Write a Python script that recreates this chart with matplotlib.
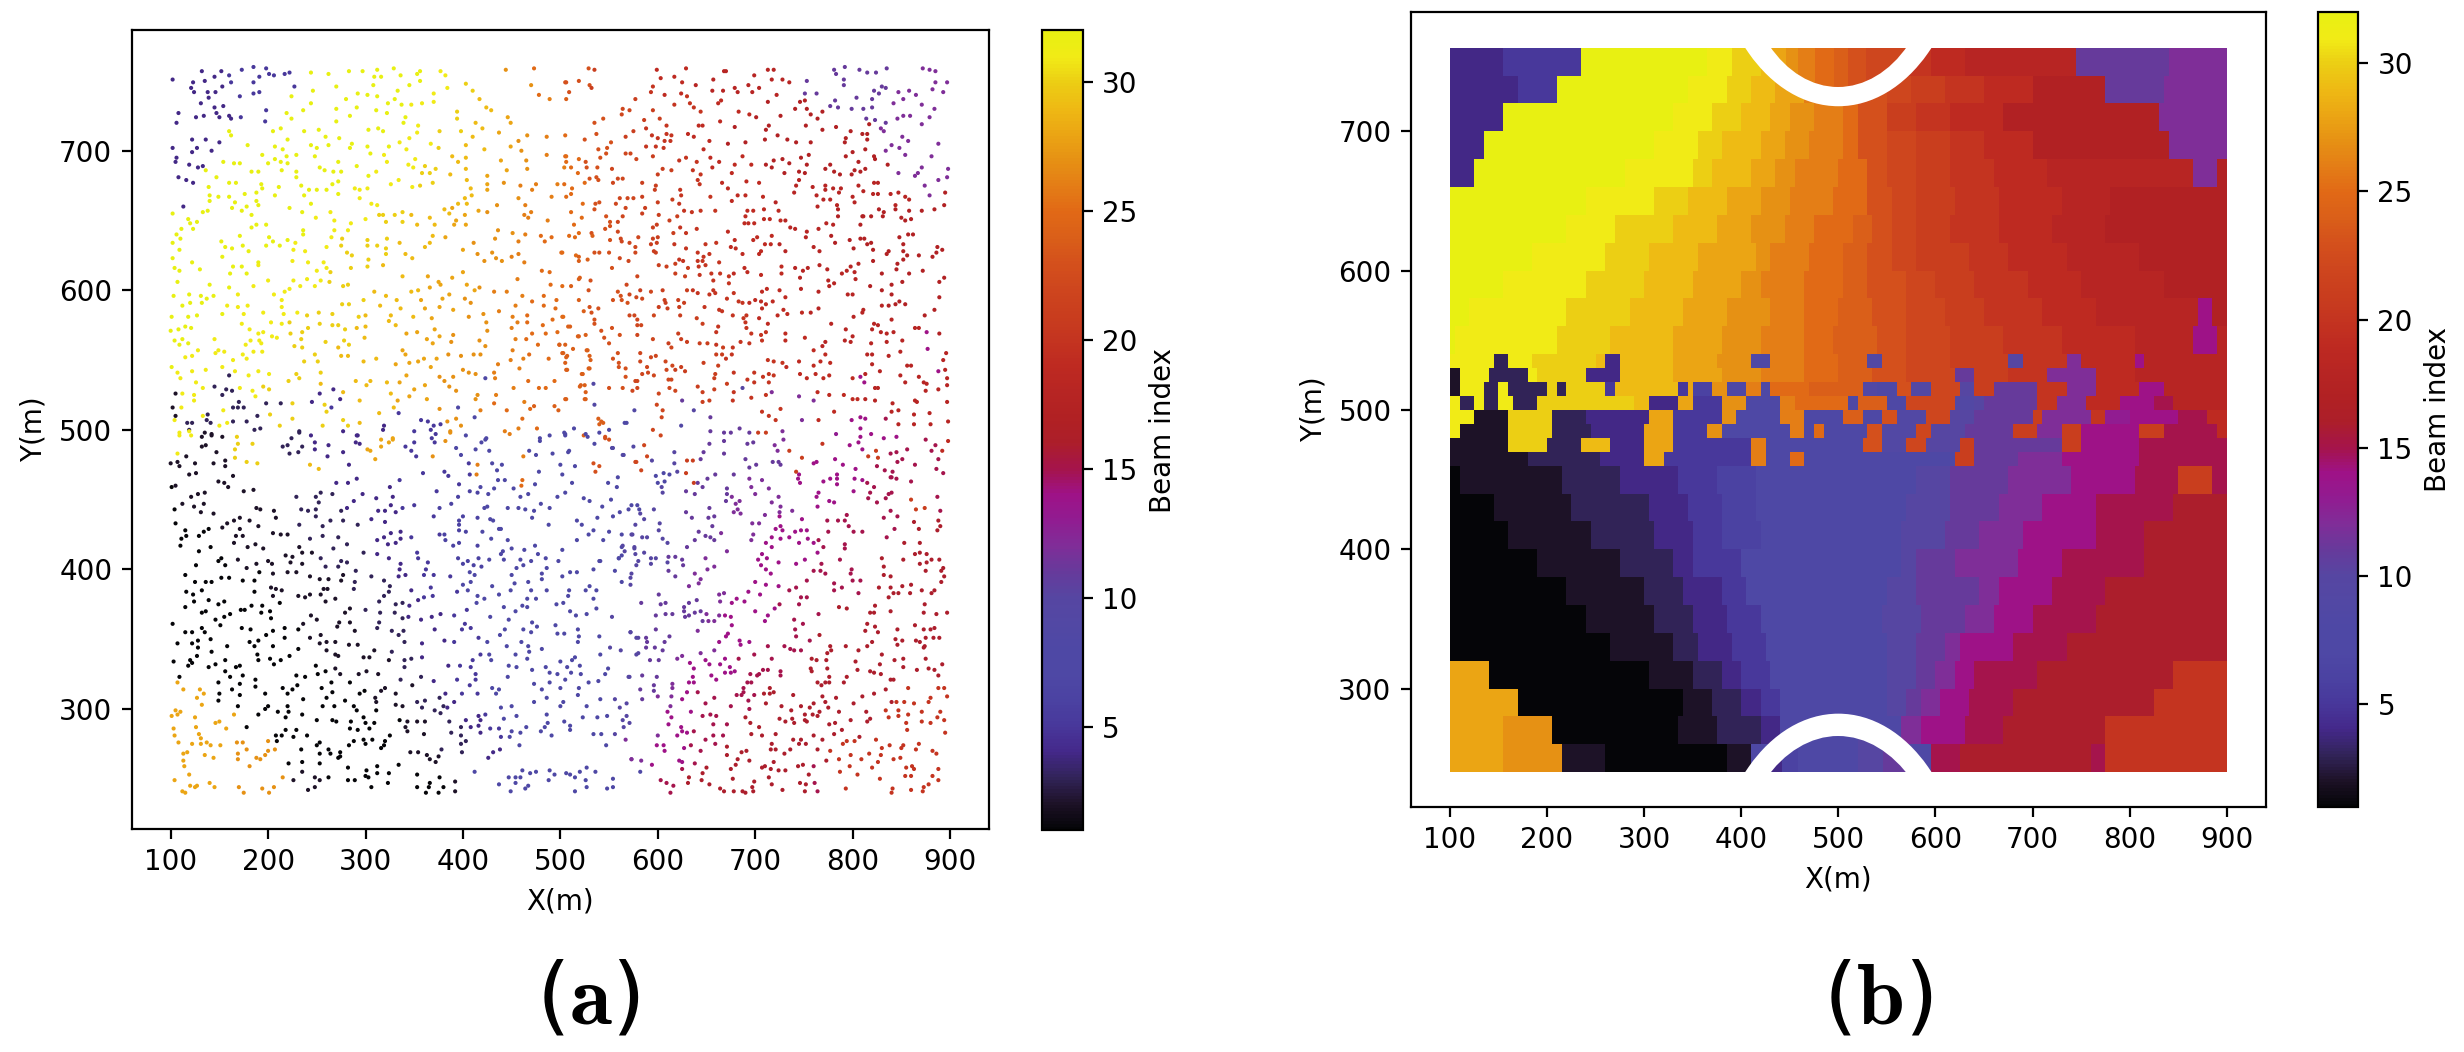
import numpy as np
import matplotlib
matplotlib.use("Agg")
import matplotlib.pyplot as plt
from matplotlib.colors import LinearSegmentedColormap, Normalize
from matplotlib.cm import ScalarMappable
from matplotlib.patches import Circle

plt.rcParams['font.family'] = 'DejaVu Sans'
plt.rcParams['mathtext.fontset'] = 'cm'

W, H = 2464, 1052

beam_palette = [
    (5,5,8),(30,18,40),(50,36,90),(68,40,138),(72,56,155),(75,66,162),(78,72,165),(78,72,165),
    (82,72,164),(86,70,162),(103,58,155),(128,45,152),(145,28,145),(158,18,135),(165,20,75),(172,30,42),
    (177,33,35),(183,37,35),(190,42,33),(196,52,32),(201,62,30),(206,70,30),(212,80,28),(218,95,25),
    (225,105,22),(228,125,22),(230,145,20),(235,165,20),(238,185,20),(236,205,20),(241,235,22),(232,240,18),
]

# Panel (b): beam regions, one string per row, "beam:x_end" runs from x=100 to x=900
y_edges = [760,740,720,700,680,660,640,620,600,580,560,540,530,520,510,500,490,480,470,460,
           440,420,400,380,360,340,320,300,280,260,240]
rows_upper = [
 "4:157 5:233 32:363 31:390 30:419 29:440 27:470 25:500 23:530 21:570 20:596 19:631 18:743 11:840 12:900",
 "4:168 5:210 32:345 31:383 30:410 29:434 28:463 26:493 24:522 23:552 22:575 21:610 20:652 19:700 17:775 11:835 12:900",
 "4:157 32:328 31:372 30:398 29:428 28:451 27:475 26:504 25:522 23:552 21:581 20:616 19:669 17:828 12:900",
 "4:133 32:310 31:357 30:381 29:422 28:445 27:469 26:504 25:522 23:552 22:578 21:616 20:652 19:699 17:840 12:900",
 "4:127 32:280 31:351 30:372 29:410 28:434 27:457 26:498 25:528 23:552 22:578 21:616 20:661 19:717 18:864 12:888 17:900",
 "32:242 31:310 30:345 29:387 28:419 27:451 26:493 25:528 23:555 22:581 21:622 20:664 19:728 18:780 17:900",
 "32:221 31:272 30:328 29:375 28:410 27:445 26:475 25:516 24:533 23:557 22:581 21:616 20:664 19:722 18:775 17:900",
 "32:183 31:260 30:304 29:357 28:416 27:428 26:469 25:504 24:528 23:557 22:581 21:634 20:675 19:734 18:811 17:900",
 "32:157 31:239 30:298 29:351 28:398 27:422 26:463 25:504 24:528 23:569 22:599 21:640 20:693 19:752 18:835 17:900",
 "32:121 31:218 30:283 29:339 28:386 27:428 26:463 25:498 24:534 23:569 22:608 21:652 20:711 19:764 18:870 14:885 17:900",
 "32:103 31:212 30:265 29:328 28:378 27:422 26:463 25:495 24:539 23:572 22:616 21:669 20:728 19:805 18:864 14:888 18:900",
]
rows_band = [
 "31:143 3:160 31:185 30:248 29:262 4:274 29:328 28:375 27:408 7:430 26:463 25:498 24:530 9:545 23:570 22:616 21:675 10:690 20:735 12:750 19:805 14:815 18:900",
 "2:110 31:140 3:182 31:192 30:242 4:275 29:328 28:378 27:420 26:465 25:500 24:535 23:570 22:620 11:640 21:675 20:715 12:763 19:805 18:900",
 "2:110 31:135 3:150 31:160 3:200 30:210 3:222 30:262 5:272 29:333 5:345 28:351 6:369 27:386 7:404 26:419 7:429 25:470 24:525 9:540 8:560 23:575 9:593 22:625 10:640 21:660 11:704 20:734 12:763 19:811 14:834 18:900",
 "31:112 3:125 31:136 3:148 31:163 3:192 30:292 29:304 4:333 28:351 5:380 27:404 7:440 26:457 25:510 8:520 24:548 8:572 22:620 9:640 10:650 11:706 20:727 12:755 19:790 14:825 15:845 18:900",
 "31:125 2:160 30:203 3:240 4:304 28:328 5:378 27:393 7:440 26:463 8:505 24:525 8:545 23:562 9:592 22:615 10:640 11:700 21:712 12:760 20:775 13:800 14:850 15:880 19:900",
 "31:112 2:160 30:203 3:243 4:301 28:330 5:363 27:381 7:451 26:466 8:475 25:484 8:528 23:543 9:581 22:593 10:631 11:681 21:705 12:728 21:752 14:811 21:835 15:888 19:900",
 "2:160 30:198 3:233 29:265 4:298 28:328 5:410 26:425 7:525 23:546 9:572 22:590 10:625 21:640 11:728 21:749 14:811 15:900",
 "2:180 3:257 4:301 28:322 5:411 26:425 7:450 25:463 8:622 21:640 11:687 12:732 14:811 15:900",
]
rows_lower = [
 "1:109 2:213 3:277 4:333 5:375 6:416 8:581 10:616 11:675 12:740 14:805 15:849 21:885 15:900",
 "1:145 2:224 3:304 4:344 5:378 6:416 8:569 10:616 11:664 12:711 14:764 15:846 16:900",
 "1:162 2:245 3:310 4:348 5:381 6:422 8:563 10:610 11:646 12:690 14:764 15:817 16:900",
 "1:192 2:277 3:328 4:351 5:398 8:563 10:581 11:622 12:684 14:731 15:814 16:900",
 "1:221 2:298 3:339 4:381 5:404 8:552 10:581 11:646 12:664 14:722 15:775 16:900",
 "1:239 2:310 3:351 4:386 5:422 8:546 10:587 11:628 12:658 14:699 15:764 16:900",
 "1:266 2:328 3:357 4:389 5:425 8:552 10:581 11:610 12:625 14:681 15:737 16:900",
 "28:142 1:304 2:348 3:381 4:398 5:428 8:552 10:581 11:599 12:619 14:640 15:705 16:843 20:900",
 "28:168 1:339 2:369 3:398 4:422 5:440 8:552 10:572 11:587 12:605 14:634 15:681 16:823 20:900",
 "28:154 27:207 1:336 2:375 3:422 4:440 8:563 12:584 14:631 15:669 16:773 20:900",
 "28:157 27:216 2:260 1:384 2:410 8:596 14:596 15:625 16:758 15:777 20:900",
]
cap_top_runs = "28:445 27:457 26:475 25:495 24:510 23:528 22:571"
cap_bottom_runs = "4:442 6:457 8:520 10:545 11:571"

# Panel (a): user positions, flat x,y pairs
pts_upper_left = [
102,751,132,757,152,757,173,758,185,760,198,759,201,755,217,755,222,756,123,749,135,750,145,753,160,754,162,749,185,749,191,753,206,754,227,746,121,745,124,742,138,742,146,742,153,746,171,739,185,741,191,742,131,734,139,738,145,731,154,732,108,727,126,724,134,725,147,727,150,724,160,725,162,723,172,724,198,729,106,720,160,714,122,708,136,708,150,706,102,702,127,702,122,699,142,700,106,695,105,692,119,690,133,689,108,681,116,679,123,677,
244,756,262,755,283,757,297,757,312,758,329,759,336,754,353,755,356,757,377,757,382,754,246,743,270,746,309,753,316,753,308,747,333,743,345,747,356,750,384,745,224,739,280,737,292,741,302,740,312,739,330,737,323,734,337,733,347,733,358,734,370,735,370,741,236,729,244,734,270,730,291,731,311,729,322,727,284,725,219,727,224,723,270,721,341,724,339,720,354,718,197,721,205,714,213,716,237,714,252,715,303,715,313,716,318,714,353,713,376,714,162,711,220,708,259,710,273,709,286,705,335,706,345,709,179,704,207,703,215,701,244,704,250,702,262,704,284,702,302,703,324,703,342,701,367,705,375,702,194,697,207,694,219,696,229,697,248,696,305,698,319,697,351,694,154,692,165,691,171,691,128,688,136,686,200,691,213,692,220,691,253,688,272,692,291,689,322,692,344,690,361,689,372,687,183,685,190,685,214,686,229,685,258,686,267,685,275,685,311,685,349,688,358,684,366,684,
147,681,303,682,229,681,139,674,160,677,167,677,193,676,194,673,211,674,234,675,266,676,272,678,289,673,302,673,326,676,334,679,348,674,356,675,369,677,140,668,149,667,160,667,176,669,188,670,207,668,237,668,242,672,250,672,260,672,272,669,294,672,294,666,140,664,166,663,188,664,178,660,190,661,222,659,244,662,306,662,312,661,113,660,138,657,133,656,102,655,163,659,173,657,183,654,235,656,249,652,264,656,314,654,318,654,330,654,338,656,347,654,353,647,118,651,120,648,127,649,123,644,188,647,198,647,183,645,268,650,285,648,300,651,321,649,338,649,111,644,106,640,110,637,102,634,171,639,236,643,236,640,268,643,282,643,265,638,276,637,302,636,322,637,335,634,152,635,201,638,198,632,205,635,212,632,220,636,228,634,260,631,275,632,302,632,312,632,321,630,109,629,156,631,163,630,174,632,180,628,226,629,238,628,281,627,286,625,321,626,341,626,102,623,153,624,190,620,225,621,241,620,257,620,303,622,348,623,122,620,104,616,109,614,130,615,164,617,173,617,190,618,260,616,250,614,285,616,302,617,318,618,161,612,178,612,264,613,107,606,200,607,226,607,240,608,254,607,263,606,140,604,160,602,185,603,222,601,233,603,248,603,277,603,282,604,103,596,119,597,131,596,144,596,169,597,206,597,217,599,137,594,132,591,214,593,120,591,112,589,158,589,169,588,179,589,214,588,276,590,283,590,298,593,101,581,118,581,127,582,153,583,175,583,195,584,216,583,230,584,240,582,252,584,266,583,293,581,300,582,
173,576,203,577,214,576,222,577,253,576,266,575,272,575,115,574,121,573,100,571,108,572,181,572,190,569,195,570,223,569,235,570,241,573,279,572,291,573,300,574,204,567,209,566,104,564,112,565,145,565,182,564,191,564,234,565,259,563,299,566,109,561,118,562,177,561,193,562,227,560,235,559,272,559,278,564,283,561,128,557,149,557,146,555,155,556,185,556,194,556,115,552,122,553,174,554,178,551,248,554,275,553,282,553,237,549,164,550,251,549,101,545,107,541,122,542,136,543,166,542,229,540,254,541,201,540,180,539,110,537,126,534,195,531,221,535,232,537,254,533,133,530,163,528,184,528,201,529,124,525,112,526,153,525,124,521,198,519,213,519,225,519,245,520,258,518,111,516,154,514,133,510,189,510,104,507,137,507,178,506,212,503,225,508,109,496,186,500,232,499,256,503,
]
pts_gap = [
105,526,102,516,105,510,117,505,119,500,132,495,138,511,141,505,142,497,153,495,158,505,164,516,164,506,169,516,175,516,170,520,187,524,202,511,192,501,168,495,145,531,157,529,171,530,153,545,160,539,190,542,150,503,122,505,224,494,253,526,267,529,265,516,260,513,277,507,282,503,294,505,292,496,277,499,319,503,318,500,328,494,334,512,350,499,357,507,364,506,370,503,377,504,367,500,372,497,384,506,393,508,398,503,387,499,403,496,412,509,418,514,395,516,424,494,443,499,448,497,457,501,461,508,476,501,479,494,489,496,505,497,524,496,539,508,544,505,540,504,546,495,566,505,576,514,534,533,
119,499,142,496,121,496,135,498,109,498,169,490,166,486,184,490,178,477,189,476,166,480,107,483,215,488,220,489,235,488,222,483,231,484,248,486,248,491,262,489,261,481,244,496,232,498,291,496,277,484,290,491,294,490,302,486,305,485,283,475,243,475,252,472,316,493,324,491,328,493,310,479,316,488,341,488,350,491,347,485,352,481,369,481,368,494,371,491,382,492,387,498,419,491,423,493,462,481,475,482,415,475,414,468,418,459,460,460,479,492,504,498,526,497,535,490,540,498,546,494,553,487,564,482,534,476,540,474,577,477,505,496,528,495,550,493,554,487,575,488,586,489,509,485,
]
pts_upper_mid = [
444,758,473,759,505,749,403,748,410,743,417,737,429,729,424,731,446,724,449,720,470,747,478,740,489,737,394,728,394,723,413,720,420,716,437,713,398,714,410,710,403,704,422,701,449,703,457,707,466,711,486,710,389,696,403,695,439,693,460,700,465,693,486,697,505,696,395,692,403,687,387,683,425,682,445,686,466,687,404,679,425,676,442,677,459,675,475,676,497,676,408,673,425,672,471,672,402,666,409,668,457,666,491,667,381,658,389,659,395,662,404,662,435,661,464,661,416,657,425,656,386,655,402,654,463,654,470,656,393,650,467,652,487,650,391,647,403,647,371,647,366,652,382,638,369,639,436,643,451,641,464,640,480,639,491,638,433,637,457,635,484,635,411,634,366,634,361,631,400,629,415,626,430,627,457,626,501,627,422,621,434,623,440,621,450,624,463,620,400,613,481,614,489,613,338,610,364,610,389,609,375,606,456,608,520,609,404,604,412,600,417,602,490,604,432,599,445,599,347,599,354,600,366,602,377,604,461,596,471,592,483,596,496,593,309,599,321,596,332,593,357,593,379,594,386,597,402,594,408,591,454,589,483,589,495,587,315,589,336,587,361,587,376,588,390,586,437,585,326,582,349,581,368,580,406,581,421,583,451,581,466,582,502,581,492,579,324,578,424,577,456,577,466,577,482,575,331,575,450,573,425,571,508,574,342,569,353,570,371,572,471,569,485,569,497,570,376,567,390,568,363,565,417,564,454,565,465,565,518,567,369,562,388,563,477,561,499,561,423,560,338,557,451,557,502,555,385,554,398,553,411,554,418,554,468,554,527,557,341,554,488,551,506,552,354,549,373,551,462,551,449,550,345,548,436,547,360,551,367,545,331,547,311,551,298,549,400,543,458,544,506,543,406,541,432,541,423,537,413,540,342,539,376,538,390,538,522,540,529,544,433,537,381,535,290,535,305,535,322,534,335,534,467,535,494,535,452,530,478,530,485,530,350,529,361,532,386,531,301,532,277,527,393,528,415,525,434,525,526,527,520,531,326,526,345,524,363,522,274,522,294,521,333,521,463,520,505,522,525,522,413,522,432,519,473,517,494,517,329,516,376,515,445,514,469,515,498,514,314,512,
]
pts_lower_left = [
100,476,107,477,109,474,125,476,116,481,132,488,136,489,147,484,144,476,156,474,156,478,119,468,126,469,164,467,149,463,155,462,159,459,101,459,105,460,175,456,185,457,121,452,128,454,135,455,104,443,112,447,124,445,134,447,131,441,144,440,188,444,192,443,206,442,171,437,165,435,158,433,181,435,208,437,105,433,190,431,153,430,115,428,139,429,171,429,134,427,129,424,116,424,111,422,167,424,174,424,205,426,213,425,220,425,110,417,165,419,187,418,141,416,179,416,195,415,129,413,232,416,218,410,225,409,235,412,245,412,267,415,152,408,169,407,149,406,156,403,126,403,200,406,188,404,178,401,204,404,223,405,235,404,254,408,259,402,275,406,281,405,115,396,191,398,205,397,220,398,229,398,243,395,272,402,277,396,290,399,152,394,160,394,174,392,186,392,125,391,136,391,142,391,253,393,262,393,289,391,275,392,203,387,208,386,214,385,116,384,132,385,186,384,257,386,261,386,288,386,123,382,243,382,205,381,231,381,254,382,124,377,139,378,238,380,269,379,149,375,155,377,212,376,259,377,194,374,183,374,115,373,172,371,176,371,284,372,132,369,136,370,161,368,193,369,202,370,279,369,155,366,203,365,146,364,244,367,250,364,273,362,151,360,102,361,132,358,236,361,284,362,173,358,182,357,217,358,231,357,271,359,289,356,115,355,122,355,135,355,205,356,198,353,254,353,141,350,217,351,243,351,260,348,269,348,107,347,122,347,128,349,181,348,190,349,283,346,292,346,128,344,158,345,186,345,205,345,231,343,253,347,142,341,260,342,189,339,222,338,269,339,272,338,127,338,202,336,298,337,304,337,103,334,120,335,156,335,190,335,213,335,118,331,122,333,146,332,206,332,139,330,171,331,249,331,167,330,259,327,269,329,251,325,293,325,301,327,313,325,156,327,274,325,
161,323,174,324,229,324,238,323,187,321,149,319,265,319,284,319,171,318,230,317,187,316,215,315,255,315,163,314,225,314,320,315,266,312,150,311,197,311,220,311,316,313,299,313,331,311,294,311,171,310,260,308,310,308,236,307,149,306,279,306,311,305,331,303,169,302,200,302,220,302,256,302,268,302,288,302,338,302,291,299,311,299,197,300,210,298,221,298,190,296,235,296,218,294,298,294,250,292,266,292,285,291,270,291,335,292,343,291,353,291,361,291,300,290,309,290,178,287,341,287,284,286,218,285,229,285,292,285,304,286,343,284,360,282,208,281,214,281,240,281,325,281,226,280,298,278,307,278,320,277,209,277,200,277,174,276,253,276,288,277,300,275,283,274,319,274,250,274,207,271,234,271,316,272,262,271,378,271,274,269,253,268,264,268,346,269,354,269,274,266,363,267,272,265,192,264,375,266,366,264,372,262,221,261,235,262,253,261,334,260,282,258,312,259,301,256,324,254,235,255,312,254,300,252,215,251,226,249,248,251,253,249,262,251,303,251,282,249,289,249,353,253,376,251,366,247,323,247,392,248,241,242,248,244,306,244,353,244,365,244,380,244,392,241,362,240,375,240,
109,323,107,319,113,314,130,314,134,311,127,308,132,303,105,299,110,298,101,295,107,296,125,294,165,296,150,291,146,290,126,287,157,286,103,286,104,281,129,282,131,279,108,276,122,275,131,275,137,276,141,274,151,274,168,276,117,269,113,268,178,271,135,267,144,265,169,268,188,265,197,267,200,270,169,264,181,259,113,263,114,259,119,253,104,249,140,247,127,245,120,245,145,244,170,244,125,244,194,243,206,244,112,241,115,240,175,240,201,240,
]
pts_lower_mid = [
393,487,413,486,427,485,398,482,468,485,492,483,508,484,406,476,430,476,440,475,500,475,515,474,435,471,381,470,385,467,359,469,407,468,478,470,502,468,536,470,559,466,436,464,443,464,396,461,335,464,282,462,291,465,270,462,461,464,474,461,512,462,549,462,373,456,407,456,415,455,432,458,325,459,452,458,505,455,558,459,254,455,266,454,297,454,395,452,426,454,459,452,467,454,497,452,524,451,311,451,328,452,249,452,229,452,252,448,288,449,388,447,480,447,530,449,543,445,326,446,350,446,425,445,457,444,489,444,552,450,573,446,234,443,249,443,241,442,281,444,338,444,313,442,320,442,376,444,422,444,446,444,464,443,570,443,275,442,331,441,473,442,249,438,370,438,400,438,415,437,561,441,471,437,554,438,538,437,306,436,428,436,517,435,396,435,264,435,277,435,320,434,431,435,522,432,292,432,488,432,396,432,256,431,232,432,439,429,396,428,403,427,420,427,437,429,534,428,550,427,563,425,574,425,376,425,381,425,326,426,336,427,529,425,256,424,272,423,319,423,347,423,312,421,336,422,382,421,429,422,517,421,544,421,243,422,331,419,323,418,396,419,390,417,281,418,415,417,446,421,474,417,563,416,576,415,450,415,463,414,441,413,502,414,563,410,439,411,298,412,312,411,353,412,477,411,560,408,395,408,416,408,324,408,354,408,442,407,459,407,485,408,405,406,427,407,470,406,364,405,498,406,540,406,400,404,336,404,411,403,419,402,578,403,462,403,362,400,335,400,486,401,455,401,534,400,556,399,573,397,407,398,481,397,510,398,517,398,360,396,370,396,412,396,450,396,306,395,334,395,341,396,387,395,502,395,572,394,481,393,319,392,408,391,467,391,563,391,453,390,530,388,325,388,400,389,430,388,572,389,367,387,405,385,449,385,470,385,509,385,486,385,526,385,537,385,324,384,347,385,394,384,437,382,415,381,466,379,508,381,369,381,319,381,360,380,475,379,534,379,461,374,466,373,314,377,414,376,422,379,496,375,503,376,331,375,338,376,345,374,354,378,442,373,510,370,537,372,404,371,300,371,315,369,454,370,330,369,391,367,516,367,527,368,377,368,428,366,338,365,344,366,368,366,553,366,447,364,357,364,471,362,495,360,314,362,402,361,312,358,476,359,371,357,408,358,399,357,443,357,462,357,518,357,327,356,339,356,470,355,572,355,497,354,504,354,438,353,334,353,519,352,540,352,578,351,381,349,391,348,416,351,460,348,340,348,425,348,518,348,358,347,467,345,445,345,551,344,481,343,468,341,454,339,418,339,427,339,562,342,578,339,541,339,309,342,327,341,358,337,466,336,410,335,429,335,515,337,512,335,340,335,347,336,500,334,385,331,397,331,408,330,324,335,447,331,455,330,485,330,507,330,340,330,471,328,549,329,520,331,413,325,521,325,489,326,511,326,497,325,394,321,413,321,446,323,357,323,505,321,570,323,529,319,539,320,336,321,370,320,546,325,473,318,489,319,430,315,407,317,500,315,519,315,481,314,437,314,348,317,382,311,399,311,415,311,434,311,518,310,486,308,376,308,361,306,391,305,503,305,541,307,556,307,473,305,353,305,568,304,527,302,380,302,500,302,358,301,561,301,384,301,439,301,450,302,371,299,377,297,486,296,423,296,442,293,455,295,523,294,538,294,548,295,416,295,568,295,403,292,418,292,564,292,504,291,487,290,386,291,398,287,416,288,428,286,437,286,465,287,484,287,510,288,565,287,408,287,510,285,571,290,418,283,450,284,459,283,480,284,388,283,398,281,491,281,534,282,542,282,556,282,439,280,448,280,403,277,567,278,398,275,458,274,547,274,438,271,399,269,431,269,426,265,573,264,412,255,461,256,489,256,506,254,527,258,536,255,475,255,469,254,494,253,520,255,454,251,447,251,510,253,515,251,459,251,488,249,554,250,526,249,454,247,467,245,437,246,527,244,554,244,464,243,548,243,449,241,515,241,
]
pts_lower_right = [
603,496,654,499,668,498,675,498,694,498,703,498,711,498,729,493,783,497,808,495,819,497,832,494,845,495,875,493,653,490,668,492,692,490,698,491,720,489,769,490,797,489,806,491,898,492,885,489,856,486,617,484,723,485,735,485,810,486,824,485,839,483,845,484,881,485,892,485,565,482,589,481,647,484,668,483,726,475,748,480,763,477,782,479,816,481,826,480,851,479,888,479,578,477,594,478,630,478,636,478,644,479,690,479,718,477,724,477,790,475,846,477,617,476,701,475,760,476,825,474,864,475,694,473,803,472,886,472,583,471,620,470,742,470,833,471,893,469,598,467,606,469,612,468,629,469,659,468,678,468,745,468,784,468,841,470,840,466,694,465,707,464,744,465,770,463,777,465,784,465,802,465,810,464,839,466,845,465,651,465,600,462,607,463,637,462,641,462,746,462,815,462,860,463,604,459,646,459,696,459,714,458,784,461,801,456,822,459,605,455,638,454,629,456,671,458,671,454,700,454,765,455,818,455,837,454,840,455,763,452,724,452,860,450,670,449,676,452,816,451,834,451,887,452,776,449,781,448,717,448,579,446,684,449,680,447,825,448,726,445,764,445,874,444,865,443,581,443,596,443,629,441,653,444,682,443,685,440,738,442,839,442,890,442,678,441,725,441,582,440,725,438,794,439,832,437,846,438,635,437,658,438,652,437,710,439,748,436,586,436,774,435,785,435,792,435,863,434,888,435,602,433,697,433,704,433,726,431,796,431,868,429,890,431,577,432,656,431,721,429,747,428,843,429,601,428,801,427,810,427,887,428,642,427,728,428,741,427,753,428,775,427,665,426,573,425,649,424,698,425,584,423,589,423,654,423,717,423,726,422,735,423,754,422,765,421,835,423,605,422,658,421,638,421,696,421,745,419,610,419,711,419,760,419,853,419,869,419,564,417,792,418,630,416,717,416,770,416,792,415,671,413,566,413,576,416,869,412,864,411,876,411,764,412,586,412,577,411,707,411,618,409,
611,409,830,408,852,407,881,407,889,407,560,408,593,408,598,408,625,407,649,408,703,407,712,408,751,407,787,407,876,405,869,404,832,402,724,405,742,404,768,404,580,406,610,405,626,403,651,400,658,402,706,403,893,401,593,404,541,406,799,400,875,399,891,399,760,399,711,400,767,399,638,397,611,399,716,397,798,397,832,396,839,395,772,397,894,395,618,395,644,393,753,392,800,392,808,392,891,391,642,390,700,391,781,390,632,388,711,389,724,388,742,387,789,387,827,387,839,387,851,388,860,389,735,385,781,385,859,383,871,385,884,385,842,383,847,383,601,382,663,382,668,383,693,384,705,382,806,383,837,380,753,380,747,380,681,379,881,383,676,376,664,377,689,377,725,375,640,378,823,374,874,375,603,375,632,376,583,376,745,375,608,376,627,373,786,373,794,372,720,372,700,370,627,370,839,370,818,369,822,369,873,369,886,368,897,369,765,368,638,369,644,370,650,368,663,367,669,367,675,366,713,367,615,368,608,368,628,366,632,367,598,367,740,364,646,363,652,363,658,363,676,360,710,363,749,361,815,361,864,360,884,358,823,359,873,357,880,357,846,357,741,357,813,356,826,355,766,353,641,356,598,357,572,355,672,354,742,352,670,352,588,351,580,351,883,351,889,351,875,351,844,350,865,349,851,349,589,348,612,352,607,348,663,348,684,349,694,348,756,349,820,348,869,348,685,346,713,345,730,345,777,345,793,345,846,346,874,345,736,343,588,344,597,344,605,342,658,342,778,342,806,342,815,345,740,342,747,342,873,344,580,340,644,340,699,339,774,340,830,339,875,336,620,336,592,335,601,335,625,338,649,335,669,336,683,336,717,336,758,336,763,335,773,335,843,335,852,336,803,334,828,332,633,333,653,332,664,332,892,332,637,329,674,330,852,330,757,329,774,329,805,328,818,327,866,328,878,329,884,328,713,328,708,328,726,327,679,327,669,326,675,326,758,327,822,326,829,325,704,325,888,324,695,325,655,324,702,324,726,324,584,324,599,323,636,323,660,321,571,323,776,323,794,323,839,321,842,321,776,319,764,319,637,319,772,319,791,319,696,319,615,318,596,317,632,319,692,319,768,317,615,315,641,312,630,312,688,315,715,315,596,313,582,314,857,315,888,315,834,314,894,315,688,312,719,312,600,309,614,309,709,311,681,310,686,310,699,310,715,311,739,310,769,309,783,308,810,309,822,311,880,308,897,309,658,308,625,307,693,306,772,305,584,307,840,305,845,305,853,305,863,304,878,305,711,304,760,304,801,304,675,302,649,304,613,302,727,302,747,302,756,301,775,301,694,300,634,298,610,298,737,299,834,299,847,299,871,298,814,298,786,298,654,296,766,298,890,298,751,296,759,296,857,296,660,295,646,295,690,294,725,293,837,294,847,295,614,294,764,295,751,292,753,291,798,292,818,293,887,294,731,291,738,293,815,291,855,290,871,291,894,292,671,289,611,289,695,290,657,289,740,290,776,289,782,290,880,290,704,287,624,287,789,285,856,285,630,283,637,284,625,284,696,282,707,281,721,282,760,281,781,282,600,281,895,283,667,281,657,281,620,281,807,280,649,278,739,278,747,278,769,278,824,278,802,277,794,277,790,275,717,275,659,275,745,275,752,275,599,274,606,274,634,274,627,272,838,274,852,274,868,275,671,273,830,272,850,272,736,271,716,271,721,271,777,270,764,271,865,271,607,270,644,270,686,269,691,270,882,270,730,268,671,267,798,267,817,268,829,267,886,268,573,264,583,263,682,264,622,263,809,264,786,264,842,264,849,265,694,263,625,262,594,260,638,261,719,262,826,262,680,260,773,263,749,260,710,259,650,258,861,259,744,259,760,259,625,257,675,257,787,255,797,259,820,258,855,258,888,257,724,256,731,256,716,257,582,255,646,254,805,253,707,258,755,253,863,257,632,251,854,252,714,251,677,250,860,252,882,252,828,250,603,249,645,249,699,248,888,249,609,247,746,247,616,245,631,247,653,246,717,246,752,246,761,247,878,246,873,244,697,244,664,243,793,243,841,243,860,242,872,241,678,241,687,241,668,241,728,242,751,241,764,241,613,240,690,240,698,241,840,240,
]
pts_upper_right = [
529,759,535,758,599,758,629,759,668,757,699,754,713,758,719,758,781,758,792,760,807,758,835,759,872,759,885,757,506,749,519,750,603,752,617,753,657,751,670,757,717,751,728,751,753,750,783,755,791,751,815,756,824,756,879,758,897,749,530,747,532,745,595,746,625,749,639,747,693,747,704,745,735,749,791,747,830,746,885,749,509,742,593,742,656,743,667,743,679,745,682,742,697,742,751,741,763,741,822,743,834,745,847,742,858,743,882,744,893,742,506,737,577,737,607,740,624,741,630,739,722,740,662,734,665,736,713,735,746,735,751,736,782,736,804,738,820,737,827,741,842,734,852,737,865,740,871,733,617,733,633,734,637,731,683,728,564,730,571,729,595,729,644,728,741,730,753,730,769,728,777,732,785,731,799,730,811,730,820,731,884,730,694,726,701,724,726,725,757,726,764,723,563,726,814,723,846,723,852,725,859,725,879,724,544,723,535,720,586,722,602,723,664,721,817,719,823,722,834,720,871,719,609,718,642,718,646,718,679,717,714,718,752,718,783,717,829,716,588,716,575,714,711,715,723,711,769,715,798,714,832,714,505,711,537,712,567,710,594,711,609,712,631,712,614,711,637,710,810,712,815,712,851,710,525,708,600,709,653,707,710,708,733,708,742,706,757,706,793,709,815,708,857,707,552,706,607,707,613,707,672,705,690,706,792,706,888,705,548,702,588,703,598,703,606,702,647,701,539,701,813,701,834,700,840,704,848,702,547,698,567,698,572,698,800,699,854,697,881,696,506,696,519,694,541,695,578,694,595,696,687,696,747,695,755,697,793,696,822,696,526,692,506,692,622,693,629,695,640,692,654,695,663,692,719,693,728,694,735,691,806,692,823,694,504,688,511,688,527,688,538,688,553,687,605,687,656,688,679,690,696,690,711,690,717,688,753,690,772,687,777,690,836,690,898,687,518,684,636,686,614,686,676,684,730,684,745,685,751,684,787,683,781,685,802,686,808,685,813,687,847,684,871,688,867,684,600,683,644,683,799,683,864,682,897,681,530,680,537,681,559,680,564,680,745,679,641,679,888,679,539,679,666,677,525,677,554,677,584,677,691,678,704,677,504,676,643,676,742,675,806,675,822,677,826,677,874,675,598,675,772,675,512,673,597,672,672,673,759,674,780,673,788,673,623,672,772,672,811,671,740,670,506,667,511,669,624,668,690,668,708,667,654,667,682,668,763,668,786,670,800,667,821,669,826,669,839,669,847,670,854,667,879,668,895,670,561,666,569,666,575,666,584,667,615,665,858,665,770,665,777,665,676,664,802,663,622,662,523,662,536,662,540,663,557,662,600,663,721,663,894,661,844,661,567,659,587,659,764,660,784,661,535,658,584,655,698,657,692,657,659,657,709,658,627,657,635,656,644,657,724,657,785,658,827,658,844,658,871,657,884,658,832,656,511,656,564,653,601,654,547,653,620,653,522,652,690,653,858,657,811,653,819,653,831,653,785,653,709,651,715,651,726,650,731,650,810,653,612,650,551,649,559,649,850,652,860,651,854,650,773,648,689,648,693,648,699,648,599,647,780,647,808,647,514,647,546,644,551,646,595,645,623,645,640,644,736,645,741,644,765,644,519,641,532,641,559,642,616,641,629,641,672,642,753,642,857,640,862,640,509,639,515,638,533,639,600,638,717,639,702,638,752,638,778,639,808,637,812,637,848,638,551,636,562,637,595,637,679,636,698,636,797,636,571,634,563,635,580,638,593,633,599,634,649,633,660,634,710,633,716,633,725,633,782,634,815,633,819,634,852,633,577,631,617,633,629,630,675,631,680,630,760,631,801,630,821,629,887,631,892,629,502,627,535,627,540,627,550,627,577,627,596,628,598,627,641,627,653,626,687,626,706,628,704,626,731,628,766,628,852,628,837,628,886,627,868,625,516,625,519,624,561,623,647,624,835,626,856,625,882,624,528,622,519,621,570,621,622,622,641,621,646,621,626,621,821,621,852,622,601,618,609,617,618,619,663,620,806,619,846,619,642,617,631,616,649,618,689,616,727,617,741,616,754,616,766,618,774,615,798,617,553,616,692,613,655,612,664,612,678,612,618,612,706,611,727,612,749,614,789,612,794,614,802,613,845,615,858,612,872,614,830,612,579,610,628,610,643,611,673,610,746,609,775,607,894,609,519,608,531,607,657,607,803,608,889,606,851,606,568,604,673,605,781,605,776,603,511,603,502,603,818,603,
562,596,559,599,582,600,593,599,605,600,630,600,636,600,641,598,657,600,707,599,712,601,725,600,747,601,765,599,830,600,840,604,529,600,571,597,800,597,795,597,653,597,678,598,659,598,840,597,519,593,578,595,584,594,621,593,671,594,683,592,700,593,731,595,889,595,607,593,554,593,563,593,569,591,706,592,718,592,848,592,687,591,694,591,627,591,608,591,711,590,854,590,830,589,837,589,844,590,530,588,539,587,524,585,601,588,610,587,622,588,648,588,707,587,765,587,811,586,884,586,532,584,663,586,666,585,729,586,748,584,757,584,810,584,503,581,535,579,571,582,576,582,596,582,623,582,677,582,691,582,704,580,723,582,733,583,840,579,801,581,874,582,579,579,640,580,688,580,535,576,690,577,646,576,713,576,778,576,822,576,826,575,864,573,510,574,553,573,579,575,662,574,583,575,820,572,868,573,542,571,793,572,691,573,711,570,829,570,835,569,842,570,876,570,660,570,579,568,621,569,696,569,706,568,731,569,889,569,519,567,526,568,545,566,561,568,800,567,751,566,595,565,624,565,707,564,731,564,792,564,798,563,851,564,630,563,643,562,651,562,660,561,685,563,694,562,772,563,819,562,835,563,550,562,611,562,499,561,505,561,667,559,677,559,614,559,769,560,513,558,528,557,760,557,849,556,877,558,582,555,503,555,559,555,660,554,666,554,676,554,772,554,815,554,820,554,837,553,896,555,507,553,530,553,593,552,598,553,670,551,531,550,554,551,608,549,582,549,713,550,719,549,745,549,767,549,777,548,893,550,505,548,560,548,647,548,728,548,856,546,820,547,560,545,615,546,589,545,624,545,567,544,662,546,732,545,760,546,860,546,507,543,530,544,609,543,618,543,628,542,828,542,888,542,895,543,584,540,590,541,699,541,659,540,678,541,714,540,746,540,813,540,849,539,523,540,719,539,596,539,762,540,776,539,808,538,868,538,897,537,567,538,658,537,692,536,708,538,770,537,800,537,897,532,611,536,577,535,714,534,753,537,614,536,579,535,699,534,812,534,671,533,521,532,525,532,564,530,550,530,826,530,854,534,876,533,873,534,574,528,579,530,641,531,658,529,687,530,612,530,717,527,888,529,875,528,601,526,618,528,646,527,678,527,711,525,764,527,776,525,791,525,823,530,745,524,506,522,526,522,625,521,677,521,653,521,696,523,800,522,805,522,813,522,823,521,760,521,864,521,897,520,646,520,535,518,726,515,841,519,637,514,599,518,866,520,847,514,605,514,781,513,863,511,840,513,707,513,879,512,714,510,654,509,748,507,765,507,799,507,813,508,834,508,624,503,568,505,847,504,863,504,880,504,898,506,808,509,604,509,514,501,542,506,721,507,808,501,595,500,550,500,684,501,728,499,
]

def px_axes(fig, left, right, top, bottom):
    return fig.add_axes([left / W, 1 - bottom / H, (right - left) / W, (bottom - top) / H])

def parse_runs(text):
    return [(int(a), int(b)) for a, b in (t.split(':') for t in text.split())]

def beam_at(runs, x):
    for beam, end in runs:
        if x <= end:
            return beam
    return runs[-1][0]

cmap = LinearSegmentedColormap.from_list('beam', [tuple(c / 255 for c in rgb) for rgb in beam_palette], N=256)
norm = Normalize(vmin=1, vmax=32)

all_rows = [parse_runs(r) for r in rows_upper + rows_band + rows_lower]

def beam_lookup(x, y):
    for i, runs in enumerate(all_rows):
        if y_edges[i + 1] <= y <= y_edges[i]:
            return beam_at(runs, x)
    return all_rows[0 if y > 500 else -1][0][0]

fig = plt.figure(figsize=(W / 200, H / 200), dpi=200)

# ---- panel (a)
ax_a = px_axes(fig, 131.7, 989, 30, 829)
pts = pts_upper_left + pts_gap + pts_upper_mid + pts_lower_left + pts_lower_mid + pts_lower_right + pts_upper_right
xs = np.array(pts[::2])
ys = np.array(pts[1::2])
beams = np.array([beam_lookup(x, y) for x, y in zip(xs, ys)])
ax_a.scatter(xs, ys, c=beams, cmap=cmap, norm=norm, s=2.2, linewidths=0)
ax_a.set_xlim(60, 940)
ax_a.set_ylim(214, 786.5)
ax_a.set_xlabel('X(m)')
ax_a.set_ylabel('Y(m)')
ax_a.set_xticks(range(100, 901, 100))
ax_a.set_yticks(range(300, 701, 100))

# ---- panel (b)
ax_b = px_axes(fig, 1411, 2265.7, 11.5, 807)
x_edges = np.arange(100, 901, 5)
x_mid = (x_edges[:-1] + x_edges[1:]) / 2
matrix = np.array([[beam_at(runs, x) for x in x_mid] for runs in all_rows], dtype=float)
ax_b.pcolormesh(x_edges, y_edges, matrix, cmap=cmap, norm=norm, shading='flat', zorder=1)

outer_top = Circle((500, 848.7), 130.7, fc='white', ec='none', zorder=2)
outer_bottom = Circle((500, 151.3), 130.7, fc='white', ec='none', zorder=2)
ax_b.add_patch(outer_top)
ax_b.add_patch(outer_bottom)

def draw_cap(runs_text, y0, y1, centre_y, radius):
    xe = np.arange(430, 573, 2)
    xm = (xe[:-1] + xe[1:]) / 2
    runs = parse_runs(runs_text)
    cells = np.array([[beam_at(runs, x) for x in xm]], dtype=float)
    mesh = ax_b.pcolormesh(xe, [y0, y1], cells, cmap=cmap, norm=norm, shading='flat', zorder=3)
    clip = Circle((500, centre_y), radius, transform=ax_b.transData, fc='none', ec='none')
    mesh.set_clip_path(clip)

draw_cap(cap_top_runs, 730, 760, 833.5, 101.5)
draw_cap(cap_bottom_runs, 240, 268, 159, 107)

ax_b.set_xlim(60, 940)
ax_b.set_ylim(215, 786)
ax_b.set_xlabel('X(m)')
ax_b.set_ylabel('Y(m)')
ax_b.set_xticks(range(100, 901, 100))
ax_b.set_yticks(range(300, 701, 100))

# ---- colour bars
for (l, r, t, b) in [(1042, 1082.7, 30, 830), (2318, 2358, 11.7, 807)]:
    cax = px_axes(fig, l, r, t, b)
    cb = fig.colorbar(ScalarMappable(norm=norm, cmap=cmap), cax=cax)
    cb.set_ticks([5, 10, 15, 20, 25, 30])
    cb.set_label('Beam index')

fig.text(588 / W, 1 - 1000 / H, r'($\mathbf{a}$)', fontsize=31, ha='center', va='center')
fig.text(1878 / W, 1 - 1000 / H, r'($\mathbf{b}$)', fontsize=31, ha='center', va='center')

fig.savefig('out.png', dpi=200, facecolor='white')
